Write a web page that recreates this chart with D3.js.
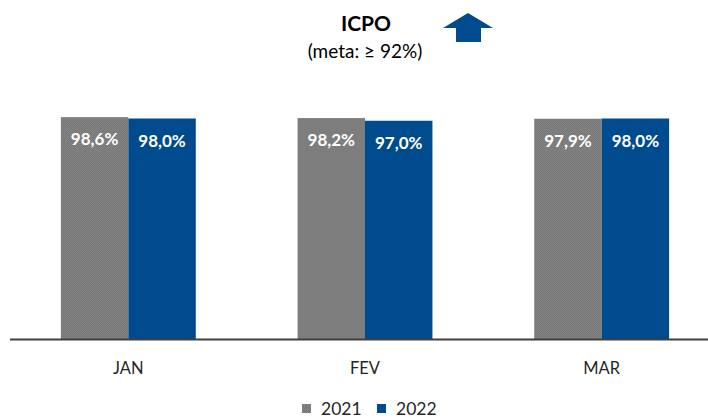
<html>
<head>
  <title>ICPO</title>
  <script src="https://d3js.org/d3.v7.min.js"></script>
  <style>
    body { margin: 0; background: #fff; }
    text { font-family: Lato, "Open Sans", sans-serif; }
  </style>
</head>
<body>
<script>
var months = ["JAN", "FEV", "MAR"];
var series = ["2021", "2022"];
var values2021 = [98.6, 98.2, 97.9];
var values2022 = [98.0, 97.0, 98.0];
var labels2021 = ["98,6%", "98,2%", "97,9%"];
var labels2022 = ["98,0%", "97,0%", "98,0%"];

var width = 708,
    height = 419;

var colors = { "2021": "url(#grayDots)", "2022": "#004B8D" };

var svg = d3.select("body")
  .append("svg")
  .attr("width", width)
  .attr("height", height);

// fine dotted texture on the grey bars
var pat = svg.append("defs").append("pattern")
  .attr("id", "grayDots")
  .attr("width", 2).attr("height", 2)
  .attr("patternUnits", "userSpaceOnUse");
pat.append("rect").attr("width", 2).attr("height", 2).attr("fill", "#858585");
pat.append("rect").attr("width", 1).attr("height", 1).attr("fill", "#767676");
pat.append("rect").attr("x", 1).attr("y", 1).attr("width", 1).attr("height", 1).attr("fill", "#767676");

var x = d3.scaleBand()
  .domain(months)
  .range([10, 720])
  .paddingInner(0.43)
  .paddingOuter(0.215);

var x1 = d3.scaleBand()
  .domain(series)
  .range([0, x.bandwidth()]);

var y = d3.scaleLinear()
  .domain([0, 100])
  .range([339, 114]);

var rows = months.map(function(m, i) {
  return [
    { month: m, key: "2021", value: values2021[i], label: labels2021[i] },
    { month: m, key: "2022", value: values2022[i], label: labels2022[i] }
  ];
});

var groups = svg.selectAll("g.month")
  .data(rows)
  .enter().append("g")
  .attr("class", "month")
  .attr("transform", function(d) { return "translate(" + x(d[0].month) + ",0)"; });

groups.selectAll("rect")
  .data(function(d) { return d; })
  .enter().append("rect")
  .attr("x", function(d) { return x1(d.key); })
  .attr("y", function(d) { return y(d.value); })
  .attr("width", x1.bandwidth())
  .attr("height", function(d) { return y(0) - y(d.value); })
  .attr("fill", function(d) { return colors[d.key]; });

groups.selectAll("text.val")
  .data(function(d) { return d; })
  .enter().append("text")
  .attr("class", "val")
  .attr("x", function(d) { return x1(d.key) + x1.bandwidth() / 2; })
  .attr("y", function(d) { return y(d.value) + 28; })
  .attr("text-anchor", "middle")
  .attr("fill", "#fff")
  .attr("font-weight", "bold")
  .attr("font-size", "17px")
  .text(function(d) { return d.label; });

// baseline
svg.append("line")
  .attr("x1", 10).attr("x2", width)
  .attr("y1", y(0) + 0.5).attr("y2", y(0) + 0.5)
  .attr("stroke", "#404040")
  .attr("stroke-width", 2);

// month labels
var xAxis = d3.axisBottom(x).tickSize(0).tickPadding(23);
var ax = svg.append("g")
  .attr("transform", "translate(0," + y(0) + ")")
  .call(xAxis);
ax.select(".domain").remove();
ax.selectAll("text")
  .attr("font-size", "16.5px")
  .attr("fill", "#262626")
  .style("font-family", "Lato, sans-serif");

// title
svg.append("text")
  .attr("x", 366).attr("y", 31)
  .attr("text-anchor", "middle")
  .attr("font-weight", "bold")
  .attr("font-size", "21px")
  .attr("fill", "#000")
  .text("ICPO");

svg.append("text")
  .attr("x", 365).attr("y", 58)
  .attr("text-anchor", "middle")
  .attr("font-size", "19px")
  .attr("fill", "#000")
  .text("(meta: \u2265 92%)");

// up arrow
svg.append("path")
  .attr("d", "M468,13 L493,28 L481,28 L481,42 L456,42 L456,28 L443,28 Z")
  .attr("fill", "#004B8D");

// legend
var legendX = [302, 377];
var legend = svg.selectAll("g.legend")
  .data(series)
  .enter().append("g")
  .attr("class", "legend")
  .attr("transform", function(d, i) { return "translate(" + legendX[i] + ",404)"; });

legend.append("rect")
  .attr("width", 9).attr("height", 9)
  .attr("fill", function(d) { return colors[d]; });

legend.append("text")
  .attr("x", 19).attr("y", 11)
  .attr("font-size", "17.5px")
  .attr("fill", "#262626")
  .text(function(d) { return d; });
</script>
</body>
</html>
